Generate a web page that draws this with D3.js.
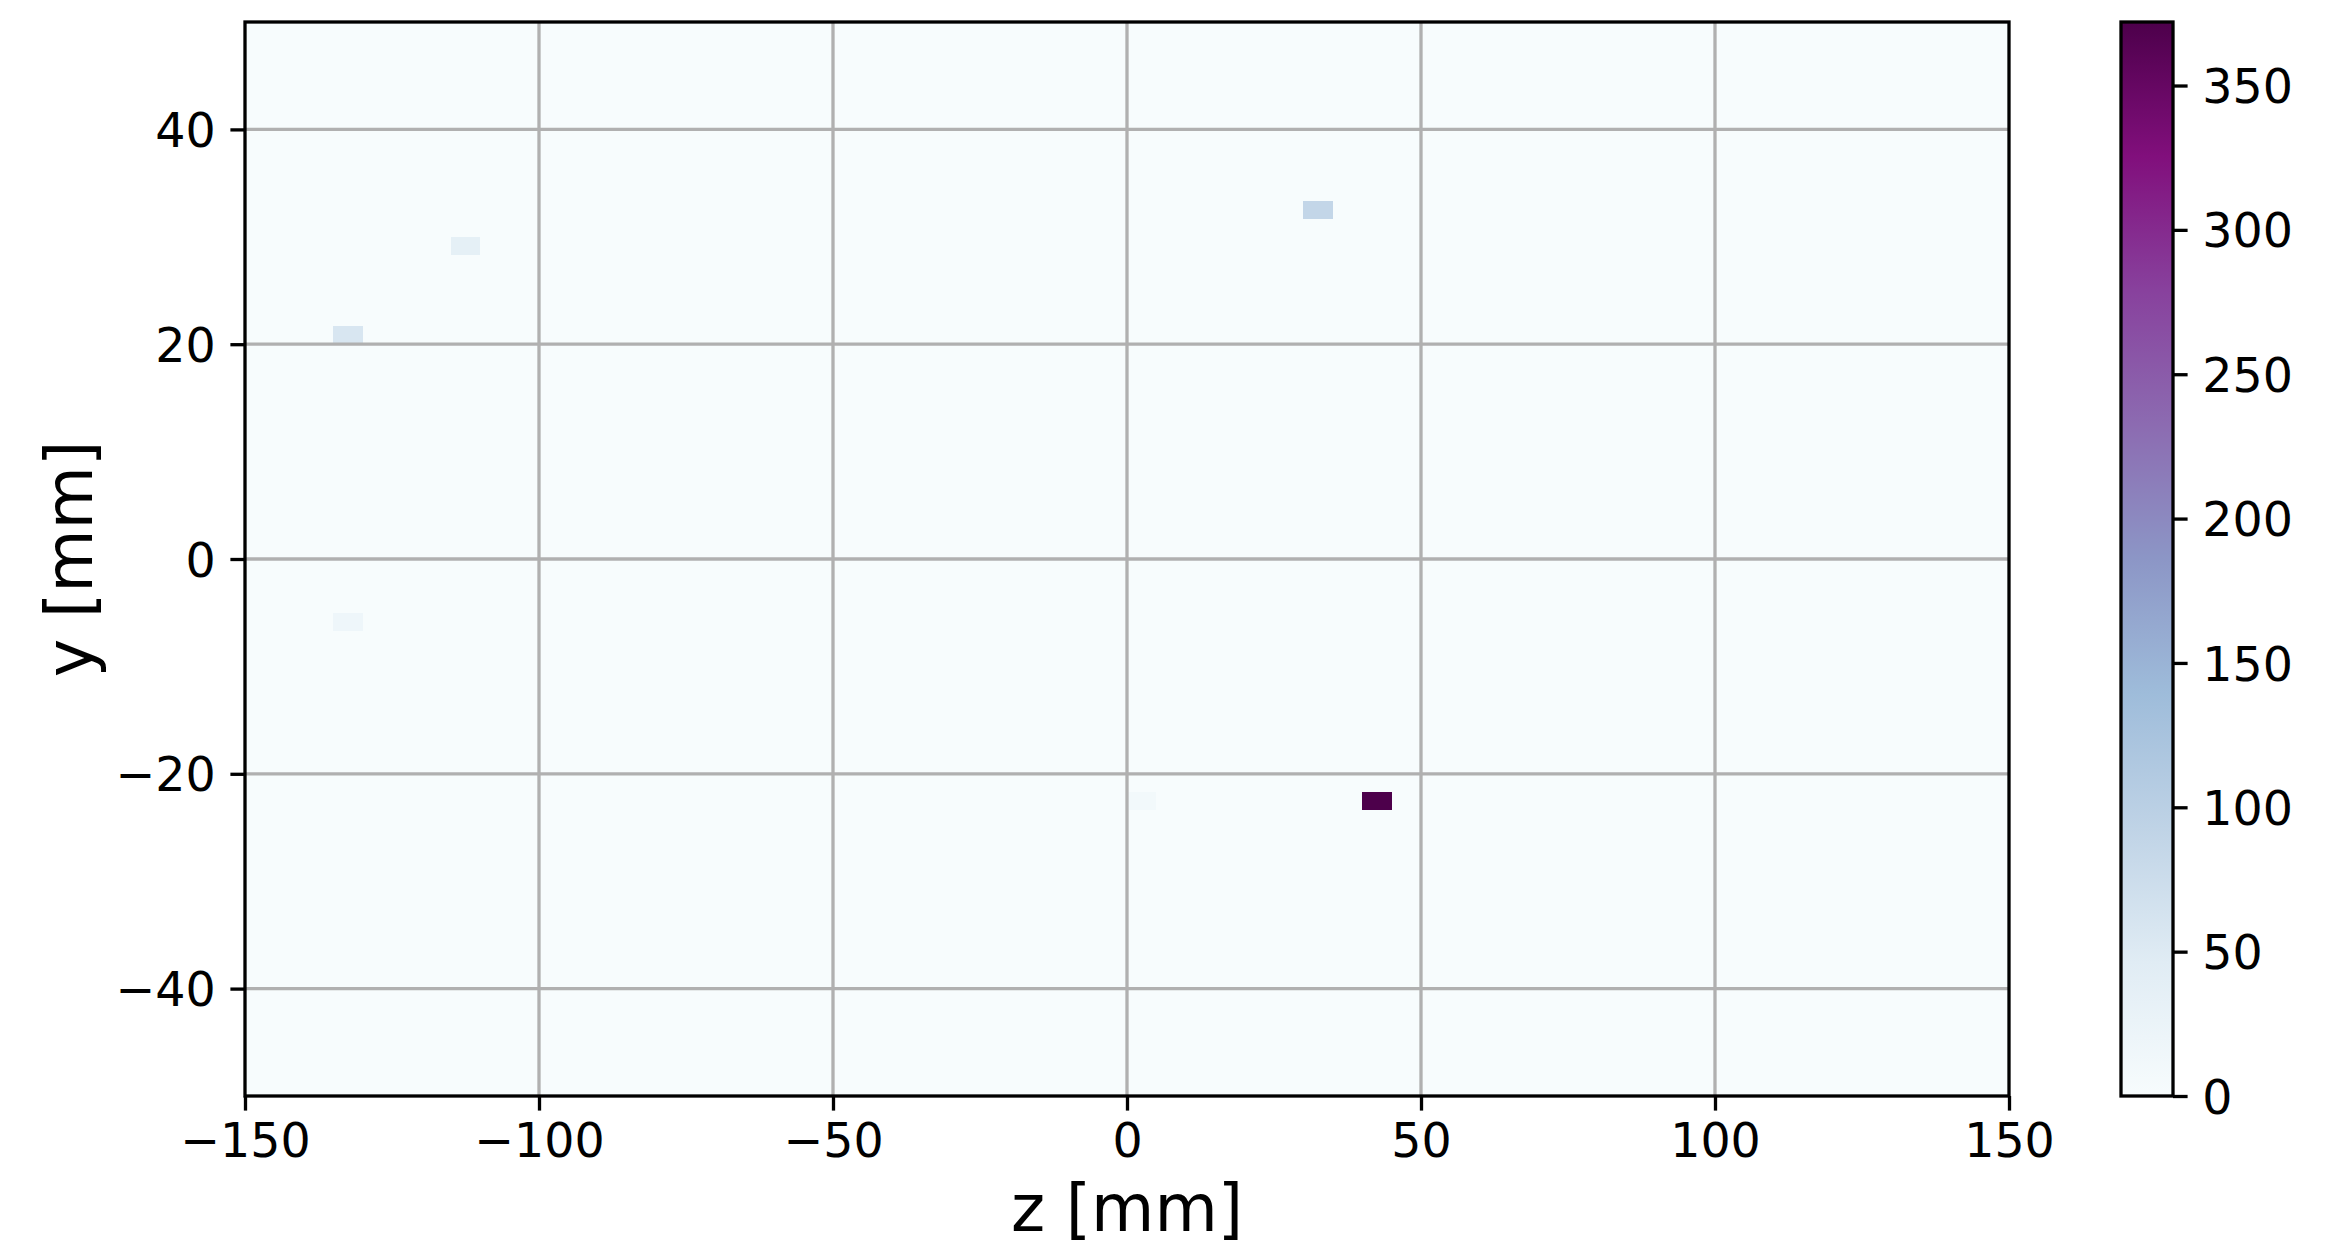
<!DOCTYPE html>
<html>
<head>
<meta charset="utf-8">
<script src="https://cdn.jsdelivr.net/npm/d3@7"></script>
<style>
  html, body { margin: 0; padding: 0; background: #ffffff; }
  svg { display: block; }
  text { font-family: "DejaVu Sans", sans-serif; fill: #000; }
</style>
</head>
<body>
<svg id="chart" width="2331" height="1245"></svg>
<script>
// Histogram binning: 60 bins along z (5 mm) and 60 bins along y (1.667 mm)
const zRange = [-150, 150];
const yRange = [-50, 50];
const nZBins = 60;
const nYBins = 60;

// Occupied bins: lower bin edges (mm) and their counts; every other bin is 0
const hitZ = [-135, -115, -135, 0, 30, 40];
const hitY = [20, 28.333, -6.667, -23.333, 31.667, -23.333];
const hitCounts = [58, 36, 18, 10, 88, 372];

// Axis ticks
const zTicks = [-150, -100, -50, 0, 50, 100, 150];
const yTicks = [-40, -20, 0, 20, 40];
const cbarTicks = [0, 50, 100, 150, 200, 250, 300, 350];

// BuPu colour stops (ColorBrewer, linearly interpolated)
const buPu = ["#f7fcfd", "#e0ecf4", "#bfd3e6", "#9ebcda", "#8c96c6",
              "#8c6bb1", "#88419d", "#810f7c", "#4d004b"];

const svg = d3.select("#chart");
const plot = { left: 245, right: 2009, top: 22, bottom: 1096 };
const cbar = { left: 2121, right: 2173, top: 22, bottom: 1096 };

const x = d3.scaleLinear().domain(zRange).range([plot.left, plot.right]);
const y = d3.scaleLinear().domain(yRange).range([plot.bottom, plot.top]);

const zStep = (zRange[1] - zRange[0]) / nZBins;
const yStep = (yRange[1] - yRange[0]) / nYBins;

// Build the full count grid
const grid = [];
for (let i = 0; i < nZBins; i++) {
  for (let j = 0; j < nYBins; j++) {
    grid.push({ i, j, count: 0 });
  }
}
hitZ.forEach((z, k) => {
  const i = Math.round((z - zRange[0]) / zStep);
  const j = Math.round((hitY[k] - yRange[0]) / yStep);
  grid[i * nYBins + j].count = hitCounts[k];
});

const vmax = d3.max(hitCounts);
const color = d3.scaleLinear()
  .domain(buPu.map((_, k) => vmax * k / (buPu.length - 1)))
  .range(buPu)
  .interpolate(d3.interpolateRgb)
  .clamp(true);

const lw = 3.3;   // 0.8 pt line width
const tickLen = 14.6;
const pad = 14.6;
const tickFont = 47.5;
const labelFont = 65;

// Background (zero count) and the histogram cells
svg.append("rect")
  .attr("x", plot.left).attr("y", plot.top)
  .attr("width", plot.right - plot.left).attr("height", plot.bottom - plot.top)
  .attr("fill", color(0));

svg.append("g")
  .attr("shape-rendering", "crispEdges")
  .selectAll("rect")
  .data(grid)
  .join("rect")
  .attr("x", d => x(zRange[0] + d.i * zStep))
  .attr("y", d => y(yRange[0] + (d.j + 1) * yStep))
  .attr("width", d => x(zRange[0] + (d.i + 1) * zStep) - x(zRange[0] + d.i * zStep))
  .attr("height", d => y(yRange[0] + d.j * yStep) - y(yRange[0] + (d.j + 1) * yStep))
  .attr("fill", d => color(d.count));

// Grid lines
const gridG = svg.append("g").attr("stroke", "#b0b0b0").attr("stroke-width", lw);
gridG.selectAll("line.gz")
  .data(zTicks.filter(t => t > zRange[0] && t < zRange[1]))
  .join("line")
  .attr("x1", d => x(d)).attr("x2", d => x(d))
  .attr("y1", plot.top).attr("y2", plot.bottom);
gridG.selectAll("line.gy")
  .data(yTicks)
  .join("line")
  .attr("class", "gy")
  .attr("y1", d => y(d)).attr("y2", d => y(d))
  .attr("x1", plot.left).attr("x2", plot.right);

// Frame
svg.append("rect")
  .attr("x", plot.left).attr("y", plot.top)
  .attr("width", plot.right - plot.left).attr("height", plot.bottom - plot.top)
  .attr("fill", "none").attr("stroke", "#000").attr("stroke-width", lw);

// X axis
const xAxis = d3.axisBottom(x).tickValues(zTicks).tickSize(tickLen).tickPadding(pad)
  .tickFormat(d => d < 0 ? "\u2212" + Math.abs(d) : String(d));
const gx = svg.append("g").attr("transform", `translate(0,${plot.bottom})`).call(xAxis);
gx.select(".domain").remove();
gx.selectAll(".tick line").attr("stroke", "#000").attr("stroke-width", lw);
gx.selectAll(".tick text")
  .attr("font-size", tickFont).attr("font-family", "DejaVu Sans")
  .attr("fill", "#000").attr("dy", null).attr("y", 61);

// Y axis
const yAxis = d3.axisLeft(y).tickValues(yTicks).tickSize(tickLen).tickPadding(pad)
  .tickFormat(d => d < 0 ? "\u2212" + Math.abs(d) : String(d));
const gy = svg.append("g").attr("transform", `translate(${plot.left},0)`).call(yAxis);
gy.select(".domain").remove();
gy.selectAll(".tick line").attr("stroke", "#000").attr("stroke-width", lw);
gy.selectAll(".tick text")
  .attr("font-size", tickFont).attr("font-family", "DejaVu Sans")
  .attr("fill", "#000").attr("dy", "0.36em");

// Axis labels
svg.append("text")
  .attr("x", (plot.left + plot.right) / 2).attr("y", 1231)
  .attr("text-anchor", "middle").attr("font-size", labelFont)
  .text("z [mm]");
svg.append("text")
  .attr("transform", `translate(92,${(plot.top + plot.bottom) / 2}) rotate(-90)`)
  .attr("text-anchor", "middle").attr("font-size", labelFont)
  .text("y [mm]");

// Colour bar
const cy = d3.scaleLinear().domain([0, vmax]).range([cbar.bottom, cbar.top]);
const defs = svg.append("defs");
const grad = defs.append("linearGradient")
  .attr("id", "cbarGrad").attr("x1", 0).attr("y1", 1).attr("x2", 0).attr("y2", 0);
grad.selectAll("stop")
  .data(buPu)
  .join("stop")
  .attr("offset", (_, k) => k / (buPu.length - 1))
  .attr("stop-color", d => d);

svg.append("rect")
  .attr("x", cbar.left).attr("y", cbar.top)
  .attr("width", cbar.right - cbar.left).attr("height", cbar.bottom - cbar.top)
  .attr("fill", "url(#cbarGrad)")
  .attr("stroke", "#000").attr("stroke-width", lw);

const cAxis = d3.axisRight(cy).tickValues(cbarTicks).tickSize(tickLen).tickPadding(pad);
const gc = svg.append("g").attr("transform", `translate(${cbar.right},0)`).call(cAxis);
gc.select(".domain").remove();
gc.selectAll(".tick line").attr("stroke", "#000").attr("stroke-width", lw);
gc.selectAll(".tick text")
  .attr("font-size", tickFont).attr("font-family", "DejaVu Sans")
  .attr("fill", "#000").attr("dy", "0.36em");
</script>
</body>
</html>
